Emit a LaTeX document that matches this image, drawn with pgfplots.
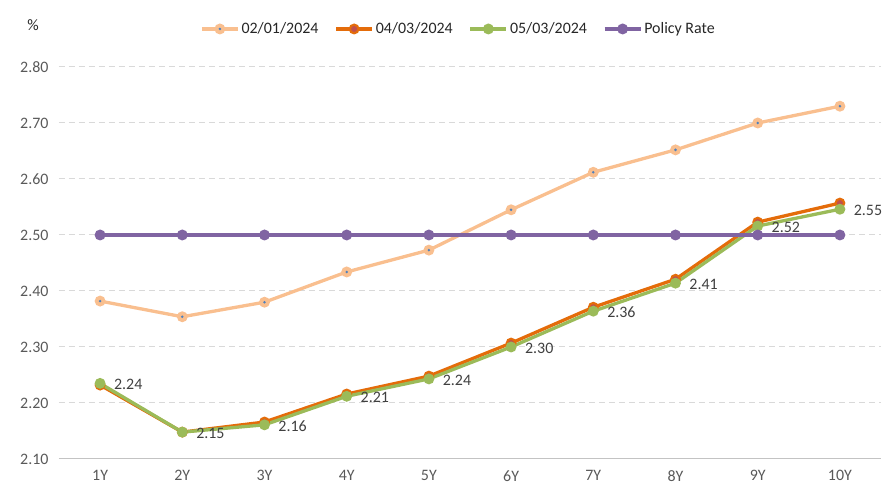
\documentclass[border=0pt]{standalone}
\usepackage{fontspec}
\setmainfont{Carlito}
\usepackage{pgfplots}
\pgfplotsset{compat=1.18}
\usepackage{pgfplotstable}
\definecolor{peach}{HTML}{F9BF8F}
\definecolor{dotblue}{HTML}{4F81BD}
\definecolor{orng}{HTML}{E46C0A}
\definecolor{redc}{HTML}{C0504D}
\definecolor{grn}{HTML}{9BBB59}
\definecolor{purp}{HTML}{8064A2}
\definecolor{gridc}{HTML}{D9D9D9}
\definecolor{txt}{HTML}{595959}
\definecolor{labc}{HTML}{404040}
\pgfdeclareplotmark{peachdot}{%
  \pgfsetfillcolor{peach}\pgfpathcircle{\pgfpointorigin}{\pgfplotmarksize}\pgfusepath{fill}%
  \pgfsetfillcolor{dotblue}\pgfpathcircle{\pgfpointorigin}{1.4bp}\pgfusepath{fill}}
\pgfdeclareplotmark{orangedot}{%
  \pgfsetfillcolor{orng}\pgfpathcircle{\pgfpointorigin}{\pgfplotmarksize}\pgfusepath{fill}%
  \pgfsetfillcolor{redc}\pgfpathcircle{\pgfpointorigin}{3bp}\pgfusepath{fill}}
\pgfdeclareplotmark{disc}{%
  \pgfpathcircle{\pgfpointorigin}{\pgfplotmarksize}\pgfusepath{fill}}
\pgfplotstableread{
x y
1 2.382
2 2.354
3 2.380
4 2.434
5 2.473
6 2.545
7 2.612
8 2.652
9 2.700
10 2.730
}\tA
\pgfplotstableread{
x y
1 2.232
2 2.148
3 2.166
4 2.216
5 2.248
6 2.307
7 2.371
8 2.421
9 2.523
10 2.557
}\tB
\pgfplotstableread{
x y lab
1 2.235 2.24
2 2.148 2.15
3 2.161 2.16
4 2.212 2.21
5 2.243 2.24
6 2.300 2.30
7 2.364 2.36
8 2.414 2.41
9 2.516 2.52
10 2.546 2.55
}\tC
\pgfplotstableread{
x y
1 2.50
2 2.50
3 2.50
4 2.50
5 2.50
6 2.50
7 2.50
8 2.50
9 2.50
10 2.50
}\tD
\begin{document}
\begin{tikzpicture}
\begin{axis}[
  name=ax, scale only axis, width=822bp, height=392bp,
  xmin=0.5, xmax=10.5, ymin=2.10, ymax=2.80,
  xtick={1,2,3,4,5,6,7,8,9,10},
  xticklabels={1Y,2Y,3Y,4Y,5Y,6Y,7Y,8Y,9Y,10Y},
  ytick={2.1,2.2,2.3,2.4,2.5,2.6,2.7,2.8},
  /pgf/number format/fixed, /pgf/number format/fixed zerofill,
  /pgf/number format/precision=2, /pgf/number format/assume math mode=true,
  yticklabel style={xshift=-7bp},
  xticklabel style={yshift=-8bp},
  ticklabel style={font=\fontsize{16}{19}\selectfont, text=txt},
  ymajorgrids, grid style={gridc, line width=1bp, dash pattern=on 6bp off 4bp},
  axis x line*=bottom, axis y line*=left,
  y axis line style={draw=none},
  x axis line style={draw=gridc!90!black, line width=1bp},
  major tick length=0pt, tick style={draw=none},
  legend columns=4,
  legend style={draw=none, fill=none, at={(0.486,1.097)}, anchor=center,
    font=\fontsize{16}{19}\selectfont, text=black!85,
    nodes={inner xsep=2bp},
    /tikz/every even column/.append style={column sep=14bp}},
  legend image code/.code={\draw[mark repeat=2,mark phase=2,#1] plot coordinates {(0bp,0bp) (18bp,0bp) (36bp,0bp)};},
  every axis plot/.append style={line width=3.3bp, mark size=5.5bp},
  clip=false,
]
\addplot[peach, mark=peachdot] table[x=x,y=y] {\tA};
\addlegendentry{02/01/2024}
\addplot[orng, mark=orangedot] table[x=x,y=y] {\tB};
\addlegendentry{04/03/2024}
\addplot[grn, mark=disc, mark options={fill=grn},
  nodes near coords, point meta=explicit symbolic,
  every node near coord/.append style={anchor=west, xshift=9bp, yshift=-1bp, text=labc, font=\fontsize{16}{19}\selectfont}]
  table[x=x,y=y,meta=lab] {\tC};
\addlegendentry{05/03/2024}
\addplot[purp, mark=disc, mark options={fill=purp}] table[x=x,y=y] {\tD};
\addlegendentry{Policy Rate}
\node[font=\fontsize{16}{19}\selectfont, text=black!85] at (rel axis cs:-0.0316,1.107) {\%};
\end{axis}
\path ([xshift=-59bp,yshift=-37bp]ax.south west) rectangle ([xshift=9bp,yshift=67bp]ax.north east);
\end{tikzpicture}
\end{document}
